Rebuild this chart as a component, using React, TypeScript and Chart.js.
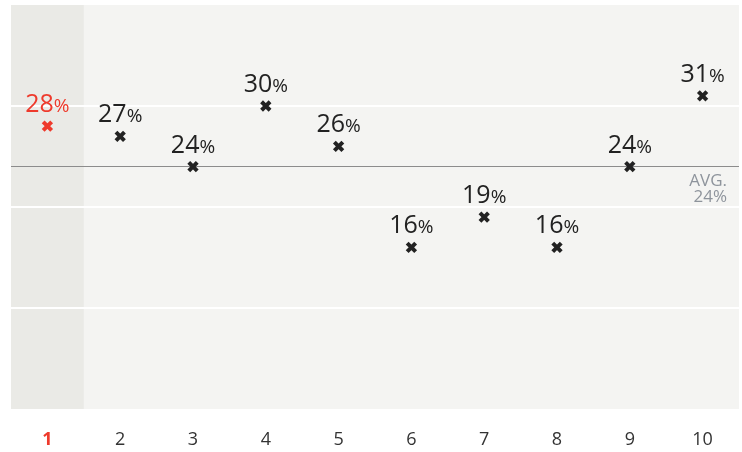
import React, { useEffect, useRef } from "react";
import { Chart, registerables } from "chart.js";

Chart.register(...registerables);

const categories: string[] = ["1", "2", "3", "4", "5", "6", "7", "8", "9", "10"];
const values: number[] = [28, 27, 24, 30, 26, 16, 19, 16, 24, 31];
const gridValues: number[] = [10, 20, 30];
const avgValue = 24.1;
const avgLabel = ["AVG.", "24%"];
const highlightIndex = 0;

const FONT = "'Open Sans', 'Noto Sans', sans-serif";
const RED = "#ee3a2c";
const DARK = "#222222";

const decorPlugin = {
  id: "decor",
  beforeDatasetsDraw(chart: any) {
    const { ctx, chartArea, scales } = chart;
    const x = scales.x;
    const y = scales.y;
    ctx.save();
    ctx.fillStyle = "#f4f4f2";
    ctx.fillRect(chartArea.left, chartArea.top, chartArea.right - chartArea.left, chartArea.bottom - chartArea.top);
    const half = (x.getPixelForValue(1) - x.getPixelForValue(0)) / 2;
    const cx = x.getPixelForValue(highlightIndex);
    ctx.fillStyle = "#eaeae6";
    ctx.fillRect(cx - half, chartArea.top, half * 2, chartArea.bottom - chartArea.top);
    ctx.strokeStyle = "#ffffff";
    ctx.lineWidth = 2;
    gridValues.forEach((v) => {
      const py = Math.round(y.getPixelForValue(v));
      ctx.beginPath();
      ctx.moveTo(chartArea.left, py);
      ctx.lineTo(chartArea.right, py);
      ctx.stroke();
    });
    const ay = Math.round(y.getPixelForValue(avgValue)) + 0.5;
    ctx.strokeStyle = "#8c8c8c";
    ctx.lineWidth = 1;
    ctx.beginPath();
    ctx.moveTo(chartArea.left, ay);
    ctx.lineTo(chartArea.right, ay);
    ctx.stroke();
    ctx.fillStyle = "#8e949c";
    ctx.font = `17px ${FONT}`;
    ctx.textAlign = "right";
    ctx.textBaseline = "alphabetic";
    ctx.fillText(avgLabel[0], chartArea.right - 12, ay + 19);
    ctx.fillText(avgLabel[1], chartArea.right - 12, ay + 35);
    ctx.restore();
  },
  afterDatasetsDraw(chart: any) {
    const { ctx } = chart;
    const meta = chart.getDatasetMeta(0);
    ctx.save();
    ctx.textBaseline = "alphabetic";
    meta.data.forEach((pt: any, i: number) => {
      const num = String(values[i]);
      ctx.font = `25px ${FONT}`;
      const w1 = ctx.measureText(num).width;
      ctx.font = `19px ${FONT}`;
      const w2 = ctx.measureText("%").width;
      const total = w1 + w2;
      const sx = pt.x - total / 2;
      const by = pt.y - 14;
      ctx.fillStyle = i === highlightIndex ? RED : DARK;
      ctx.textAlign = "left";
      ctx.font = `25px ${FONT}`;
      ctx.fillText(num, sx, by);
      ctx.font = `19px ${FONT}`;
      ctx.fillText("%", sx + w1, by);
    });
    ctx.restore();
  },
};

export default function App() {
  const ref = useRef<HTMLCanvasElement>(null);
  useEffect(() => {
    document.body.style.margin = "0";
    const chart = new Chart(ref.current!, {
      type: "line",
      data: {
        labels: categories,
        datasets: [
          {
            data: values,
            showLine: false,
            pointStyle: "crossRot",
            pointRadius: 6,
            pointBorderWidth: 4,
            pointBorderColor: values.map((_, i) => (i === highlightIndex ? RED : DARK)),
            pointBackgroundColor: values.map((_, i) => (i === highlightIndex ? RED : DARK)),
          },
        ],
      },
      options: {
        animation: false,
        responsive: false,
        maintainAspectRatio: false,
        layout: { autoPadding: false, padding: { left: 11, right: 3, top: 5, bottom: 0 } },
        plugins: { legend: { display: false }, tooltip: { enabled: false } },
        scales: {
          x: {
            type: "category",
            offset: true,
            grid: { display: false, drawTicks: false },
            border: { display: false },
            afterFit: (s: any) => {
              s.height = 43;
            },
            ticks: {
              padding: 20,
              maxRotation: 0,
              font: (c: any) => ({ family: FONT, size: 18, weight: c.index === highlightIndex ? "bold" : "normal" }),
              color: (c: any) => (c.index === highlightIndex ? RED : "#333333"),
            },
          },
          y: { display: false, min: 0, max: 40 },
        },
      },
      plugins: [decorPlugin],
    });
    return () => chart.destroy();
  }, []);
  return (
    <div style={{ width: 742, height: 452 }}>
      <canvas ref={ref} width={742} height={452} style={{ display: "block" }} />
    </div>
  );
}
